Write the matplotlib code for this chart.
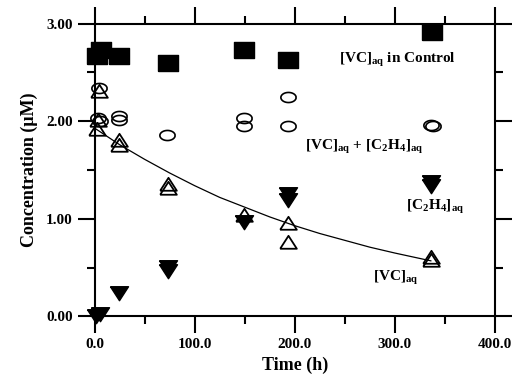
import matplotlib
matplotlib.use("Agg")
import matplotlib.pyplot as plt
import numpy as np

plt.rcParams['font.family'] = ['Liberation Serif', 'DejaVu Serif']
plt.rcParams['font.weight'] = 'bold'
plt.rcParams['axes.labelweight'] = 'bold'
plt.rcParams['mathtext.fontset'] = 'custom'
plt.rcParams['mathtext.rm'] = 'Liberation Serif:bold'
plt.rcParams['mathtext.bf'] = 'Liberation Serif:bold'

# [VC]aq in control (filled rectangles)
t_ctrl = [2, 6, 24, 73, 149, 193, 337]
vc_ctrl = [2.67, 2.73, 2.67, 2.60, 2.73, 2.63, 2.91]

# [VC]aq + [C2H4]aq (open ellipses)
t_sum = [4, 3, 5, 24, 24, 72, 149, 149, 193, 193, 336, 338]
vc_sum = [2.34, 2.03, 2.00, 2.05, 2.01, 1.86, 2.03, 1.95, 2.25, 1.95, 1.96, 1.95]

# [VC]aq (open triangles)
t_vc = [4, 3, 2, 24, 24, 73, 73, 149, 193, 193, 336, 336]
vc_aq = [2.31, 2.01, 1.92, 1.81, 1.76, 1.36, 1.32, 1.04, 0.96, 0.76, 0.61, 0.58]

# [C2H4]aq (filled down triangles)
t_eth = [1, 5, 24, 73, 73, 149, 193, 193, 336, 336]
eth_aq = [0.01, 0.03, 0.24, 0.51, 0.47, 0.97, 1.25, 1.19, 1.38, 1.34]

# fitted curve through [VC]aq
t_fit = [0, 25, 50, 75, 100, 125, 150, 175, 200, 225, 250, 275, 300, 336]
vc_fit = [1.93, 1.76, 1.61, 1.47, 1.34, 1.22, 1.12, 1.02, 0.93, 0.85, 0.78, 0.71, 0.65, 0.57]

# marker shapes (wider than tall)
rect = [(-1, -0.8), (1, -0.8), (1, 0.8), (-1, 0.8), (-1, -0.8)]
ang = np.linspace(0, 2 * np.pi, 40)
ellipse = list(zip(np.cos(ang), 0.66 * np.sin(ang)))
tri_up = [(-1, -0.75), (1, -0.75), (0, 0.8), (-1, -0.75)]
tri_dn = [(-1, 0.75), (1, 0.75), (0, -0.8), (-1, 0.75)]

fig = plt.figure(figsize=(5.15, 3.78), dpi=100)
ax = fig.add_axes([0.1835, 0.1627, 0.7775, 0.775])

ax.plot(t_fit, vc_fit, color='black', lw=0.9, zorder=2)
ax.plot(t_ctrl, vc_ctrl, ls='none', marker=rect, ms=14, color='black',
        clip_on=False, zorder=3)
ax.plot(t_sum, vc_sum, ls='none', marker=ellipse, ms=11, mfc='none',
        mec='black', mew=1.2, clip_on=False, zorder=3)
ax.plot(t_vc, vc_aq, ls='none', marker=tri_up, ms=12, mfc='none',
        mec='black', mew=1.3, clip_on=False, zorder=3)
ax.plot(t_eth, eth_aq, ls='none', marker=tri_dn, ms=13, color='black',
        clip_on=False, zorder=4)

ax.text(303, 2.63, r'[VC]$_{\mathrm{aq}}$ in Control', ha='center', va='center', fontsize=11)
ax.text(270, 1.74, r'[VC]$_{\mathrm{aq}}$ + [C$_{2}$H$_{4}$]$_{\mathrm{aq}}$', ha='center',
        va='center', fontsize=11)
ax.text(340, 1.12, r'[C$_{2}$H$_{4}$]$_{\mathrm{aq}}$', ha='center', va='center', fontsize=11)
ax.text(301, 0.40, r'[VC]$_{\mathrm{aq}}$', ha='center', va='center', fontsize=11)

ax.set_xlim(0, 400)
ax.set_ylim(0, 3)
ax.set_xticks([0, 100, 200, 300, 400])
ax.set_xticks([50, 150, 250, 350], minor=True)
ax.set_yticks([0, 1, 2, 3])
ax.set_yticks([0.5, 1.5, 2.5], minor=True)
ax.set_xticklabels(['0.0', '100.0', '200.0', '300.0', '400.0'])
ax.set_yticklabels(['0.00', '1.00', '2.00', '3.00'])

for s in ax.spines.values():
    s.set_linewidth(1.5)
ax.tick_params(which='both', direction='out', top=True, right=True, width=1.5,
               labelsize=11)
ax.tick_params(which='major', length=12.5, pad=3)
ax.tick_params(which='minor', length=6)

ax.set_xlabel('Time (h)', fontsize=13, fontweight='bold', labelpad=4)
ax.set_ylabel('Concentration (\u03bcM)', fontsize=13, fontweight='bold', labelpad=6)

fig.savefig('out.png', dpi=100)
